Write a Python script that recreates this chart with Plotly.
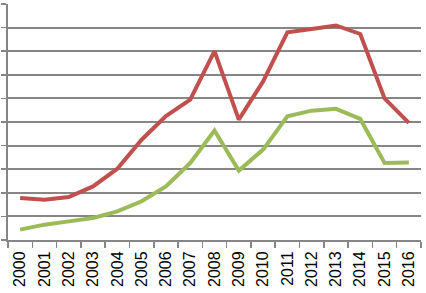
import plotly.graph_objects as go

years = [str(y) for y in range(2000, 2017)]
series_red = [1780, 1710, 1820, 2270, 3020, 4250, 5250, 5950, 8000, 5100, 6720, 8800, 8940, 9090, 8730, 6000, 4960]
series_green = [440, 650, 790, 930, 1210, 1640, 2270, 3260, 4640, 2940, 3830, 5240, 5480, 5560, 5130, 3260, 3280]
y_ticks = list(range(0, 10001, 1000))

fig = go.Figure()
fig.add_trace(go.Scatter(x=years, y=series_red, mode="lines",
                         line=dict(color="#C0504D", width=4), name="Series 1"))
fig.add_trace(go.Scatter(x=years, y=series_green, mode="lines",
                         line=dict(color="#9BBB59", width=4), name="Series 2"))

fig.update_layout(
    width=426, height=293,
    margin=dict(l=8, r=5, t=4, b=53, autoexpand=False),
    paper_bgcolor="white", plot_bgcolor="white",
    showlegend=False, hovermode=False,
    font=dict(family="Liberation Sans, Arial, sans-serif", size=16, color="black"),
)
fig.update_xaxes(
    type="category", tickangle=-90, tickson="boundaries",
    range=[-0.5, len(years) - 0.5], automargin=False,
    ticks="outside", ticklen=6, tickcolor="#868686", tickwidth=1.5,
    showline=True, linecolor="#868686", linewidth=2,
    showgrid=False, ticklabelstandoff=3,
)
fig.update_yaxes(
    range=[0, 10000], tickvals=y_ticks, showticklabels=False, automargin=False,
    ticks="outside", ticklen=5, tickcolor="#868686", tickwidth=1.5,
    showline=True, linecolor="#868686", linewidth=2,
    showgrid=True, gridcolor="#868686", gridwidth=2, zeroline=False,
)
fig.write_html("out.html",
               config={"displayModeBar": False, "staticPlot": True},
               post_script="document.body.style.margin='0';document.body.style.overflow='hidden';")
